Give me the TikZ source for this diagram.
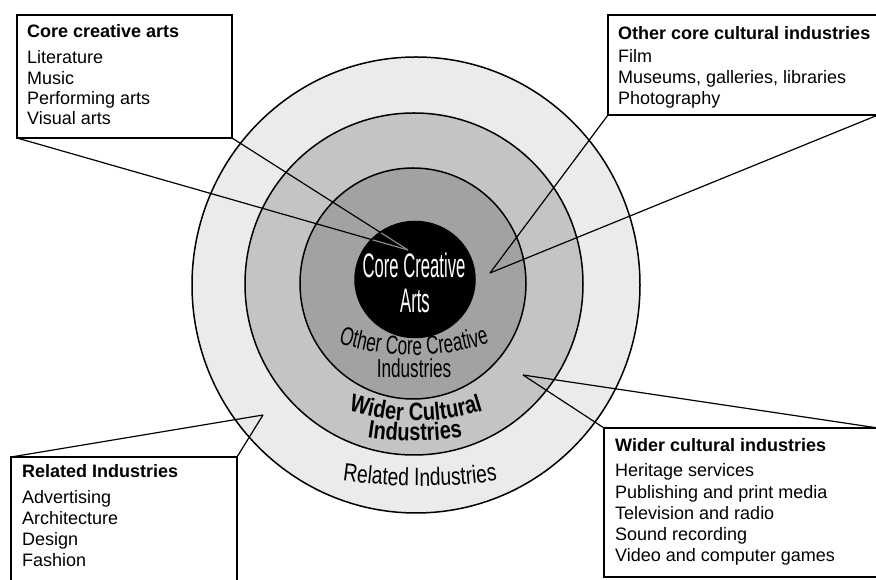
\documentclass[tikz,border=0pt]{standalone}
\usepackage{fontspec}
\setmainfont{Liberation Sans}
\newfontfamily\narrowA[FakeStretch=0.49]{Liberation Sans}
\newfontfamily\narrowB[FakeStretch=0.66]{Liberation Sans}
\newfontfamily\narrowC[FakeStretch=0.80]{Liberation Sans}
\newfontfamily\narrowD[FakeStretch=0.77]{Liberation Sans}
\usetikzlibrary{decorations.text}
\definecolor{ringA}{HTML}{EBEBEB}
\definecolor{ringB}{HTML}{C4C4C4}
\definecolor{ringC}{HTML}{A2A2A2}
\definecolor{tipgray}{HTML}{8A8A8A}
\begin{document}
\begin{tikzpicture}[x=1pt,y=1pt,
  ringline/.style={draw=black, line width=1.5pt},
  callout/.style={draw=black, line width=1.2pt},
  boxnode/.style={draw=black, line width=1.4pt, fill=white, inner sep=0pt, outer sep=0pt},
  boxtitle/.style={anchor=base west, inner sep=0pt, font=\fontsize{18}{20}\selectfont\bfseries},
  boxitem/.style={anchor=base west, inner sep=0pt, font=\fontsize{18}{20}\selectfont},
  centertext/.style={anchor=base, inner sep=0pt}]
\useasboundingbox (0,0) rectangle (876,580);
\clip (0,0) rectangle (876,580);
\fill[white] (0,0) rectangle (876,580);

% rings
\coordinate (cA) at (416,295);
\coordinate (cB) at (414,296);
\coordinate (cC) at (413,296.5);
\coordinate (cD) at (415,300.5);
\filldraw[ringline, fill=ringA] (cA) ellipse [x radius=224, y radius=228];
\filldraw[ringline, fill=ringB] (cB) ellipse [x radius=169, y radius=171];
\filldraw[ringline, fill=ringC] (cC) ellipse [x radius=113, y radius=115.5];
\filldraw[ringline, fill=black] (cD) ellipse [x radius=60, y radius=58];

% ring labels
\node[centertext, text=white, font=\narrowA\fontsize{34}{34}\selectfont] (lcore1) at (414,302) {Core Creative};
\node[centertext, text=white, font=\narrowA\fontsize{34}{34}\selectfont] (lcore2) at (415,267) {Arts};
\path[decorate, decoration={text along path, text align=center,
  text={|\narrowB\fontsize{26}{26}\selectfont|Other Core Creative}}]
  ([shift={(245:247)}]414,472) arc[start angle=245, end angle=295, radius=247];
\node[centertext, font=\narrowB\fontsize{26}{26}\selectfont] (lother2) at (414,202) {Industries};
\path[decorate, decoration={text along path, text align=center,
  text={|\narrowC\fontsize{25}{25}\selectfont\bfseries|Wider Cultural}}]
  ([shift={(240:219)}]416,378) arc[start angle=240, end angle=300, radius=219];
\path[decorate, decoration={text along path, text align=center,
  text={|\narrowC\fontsize{25}{25}\selectfont\bfseries|Industries}}]
  ([shift={(255:300)}]415,439) arc[start angle=255, end angle=285, radius=300];
\path[decorate, decoration={text along path, text align=center,
  text={|\narrowD\fontsize{25}{25}\selectfont|Related Industries}}]
  ([shift={(255:550)}]420,644) arc[start angle=255, end angle=285, radius=550];

% boxes
\node[boxnode, anchor=south west, minimum width=215, minimum height=123] (b1) at (17,442) {};
\node[boxnode, anchor=south west, minimum width=270, minimum height=100] (b2) at (608,465) {};
\node[boxnode, anchor=north west, minimum width=226, minimum height=140] (b3) at (11,123) {};
\node[boxnode, anchor=north west, minimum width=274, minimum height=149] (b4) at (604,152) {};

% callout tips
\coordinate (t1) at (408,330);
\coordinate (t2) at (490,307);
\coordinate (t3) at (263,165);
\coordinate (t4) at (523,205);

\draw[callout] (b1.south west) -- (t1);
\draw[callout] (b1.south east) -- (t1);
\draw[callout] (b2.south west) -- (t2);
\draw[callout] (b2.south east) -- (t2);
\draw[callout] (b3.north west) -- (t3);
\draw[callout] (b3.north east) -- (t3);
\draw[callout] (b4.north west) -- (t4);
\draw[callout] (b4.north east) -- (t4);
\begin{scope}
  \clip (cD) ellipse [x radius=59, y radius=57];
  \draw[callout, draw=tipgray] (b1.south west) -- (t1);
  \draw[callout, draw=tipgray] (b1.south east) -- (t1);
\end{scope}

% box texts
\node[boxtitle] (b1t) at (27,542) {Core creative arts};
\foreach \t [count=\i] in {Literature,Music,Performing arts,Visual arts}
  \node[boxitem] (b1i\i) at (27,{516-20.3*(\i-1)}) {\t};
\node[boxtitle] (b2t) at (618,540) {Other core cultural industries};
\foreach \t [count=\i] in {Film,{Museums, galleries, libraries},Photography}
  \node[boxitem] (b2i\i) at (618,{517-21*(\i-1)}) {\t};
\node[boxtitle] (b3t) at (22,102) {Related Industries};
\foreach \t [count=\i] in {Advertising,Architecture,Design,Fashion}
  \node[boxitem] (b3i\i) at (22,{76-21*(\i-1)}) {\t};
\node[boxtitle] (b4t) at (615,128) {Wider cultural industries};
\foreach \t [count=\i] in {Heritage services,Publishing and print media,Television and radio,Sound recording,Video and computer games}
  \node[boxitem] (b4i\i) at (615,{103-21.2*(\i-1)}) {\t};
\end{tikzpicture}
\end{document}
